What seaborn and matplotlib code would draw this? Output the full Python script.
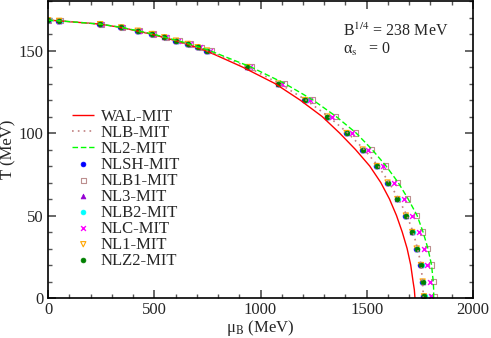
"""Фазовая граница T(mu_B) для моделей WAL/NL с мешком MIT."""

import matplotlib
matplotlib.use("Agg")
import matplotlib.pyplot as plt
from matplotlib.ticker import MultipleLocator
import pandas as pd
import seaborn as sns

# температуры для линий (МэВ)
T_LINE = [0, 5, 10, 20, 30, 40, 50, 60, 70, 80, 90, 100, 110, 120, 130, 140,
          150, 155, 160, 164, 166, 168, 168.4]
MU_WAL = [1727, 1724, 1718, 1707, 1690, 1667, 1640, 1607, 1566, 1514, 1447,
          1372, 1290, 1186, 1068, 915, 742, 628, 484, 342, 244, 52, 0]
MU_NLB = [1766, 1765, 1762, 1756, 1739, 1718, 1689, 1650, 1605, 1554, 1488,
          1411, 1320, 1214, 1088, 940, 748, 632, 488, 344, 245, 52, 0]
MU_NL2 = [1815, 1815, 1813, 1805, 1788, 1765, 1737, 1695, 1648, 1591, 1525,
          1450, 1356, 1247, 1114, 955, 760, 638, 492, 347, 247, 53, 0]

# температуры для точек
T_PTS = [168.3, 168, 166, 164, 162, 160, 158, 156, 154, 152, 150, 140, 130,
         120, 110, 100, 90, 80, 70, 60, 50, 40, 30, 20, 10, 1]
MU_MAIN = [0, 52, 245, 344, 422, 488, 547, 602, 657, 704, 748, 938, 1084,
           1209, 1314, 1405, 1481, 1547, 1598, 1644, 1684, 1714, 1735, 1755,
           1763, 1769]
MU_NLC = [0, 54, 248, 348, 427, 494, 554, 610, 666, 714, 760, 950, 1103,
          1233, 1338, 1429, 1507, 1575, 1630, 1675, 1714, 1746, 1769, 1785,
          1798, 1801]
MU_NLB1 = [0, 56, 251, 351, 431, 498, 559, 616, 672, 721, 768, 958, 1112,
           1244, 1354, 1448, 1523, 1589, 1646, 1693, 1735, 1763, 1785, 1805,
           1816, 1818]

LINES = [("WAL-MIT", MU_WAL, "#ff0000", (0, ()), 1.0),
         ("NLB-MIT", MU_NLB, "#c08080", (0, (1, 2.5)), 1.2),
         ("NL2-MIT", MU_NL2, "#00ff00", (0, (4, 2)), 1.0)]

# имя, значения, сдвиг по mu, цвет, маркер, заливка
MARKERS = [("NLSH-MIT", MU_MAIN, -3, "#0000ff", "o", True),
           ("NLB1-MIT", MU_NLB1, 0, "#bc8f8f", "s", False),
           ("NL3-MIT", MU_MAIN, 0, "#9400d3", "^", True),
           ("NLB2-MIT", MU_MAIN, 3, "#00ffff", "o", True),
           ("NLC-MIT", MU_NLC, 0, "#ff00ff", "x", True),
           ("NL1-MIT", MU_MAIN, 0, "#ffa500", "v", False),
           ("NLZ2-MIT", MU_MAIN, 0, "#008000", "o", True)]

sns.set_theme(style="ticks")
plt.rcParams["font.family"] = ["Liberation Serif", "DejaVu Serif"]
plt.rcParams["mathtext.fontset"] = "stix"

fig = plt.figure(figsize=(4.91, 3.38), dpi=100)
ax = fig.add_axes([0.0978, 0.1183, 0.8655, 0.8787])

for name, mu, color, ls, lw in LINES:
    df = pd.DataFrame({"mu": mu, "T": T_LINE})
    sns.lineplot(data=df, x="mu", y="T", ax=ax, sort=False, estimator=None,
                 color=color, linestyle=ls, linewidth=lw, label=name)

for name, mu, dx, color, m, filled in MARKERS:
    df = pd.DataFrame({"mu": [v + dx for v in mu], "T": T_PTS})
    if m == "x":
        kw = dict(color=color, linewidth=1.0, s=12)
    elif filled:
        kw = dict(color=color, edgecolor=color, linewidth=0.5, s=12)
    else:
        kw = dict(facecolor="none", edgecolor=color, linewidth=0.8, s=14)
    sns.scatterplot(data=df, x="mu", y="T", ax=ax, marker=m, label=name, **kw)

ax.set_xlim(0, 2000)
ax.set_ylim(0, 180)
ax.xaxis.set_major_locator(MultipleLocator(500))
ax.xaxis.set_minor_locator(MultipleLocator(100))
ax.yaxis.set_major_locator(MultipleLocator(50))
ax.yaxis.set_minor_locator(MultipleLocator(10))
ax.tick_params(which="both", direction="in", top=True, right=True,
               labelsize=12, pad=3, color="#555555")
ax.tick_params(which="major", length=6)
ax.tick_params(which="minor", length=3)
for sp in ax.spines.values():
    sp.set_linewidth(1.2)
    sp.set_color("black")

ax.set_xlabel("μ$_{\\rm B}$ (MeV)", fontsize=12, labelpad=0)
ax.set_ylabel("T (MeV)", fontsize=12, labelpad=2)

ax.text(1390, 158.5, "B$^{1/4}$ = 238 MeV", fontsize=11.5)
ax.text(1390, 148.2, "α$_{\\rm s}$   = 0", fontsize=11.5)

ax.legend(loc="upper left", bbox_to_anchor=(0.03, 0.677), frameon=False,
          fontsize=12, labelspacing=0.0, handlelength=1.3, handletextpad=0.4,
          borderpad=0.2)

fig.savefig("out.png", dpi=100)
